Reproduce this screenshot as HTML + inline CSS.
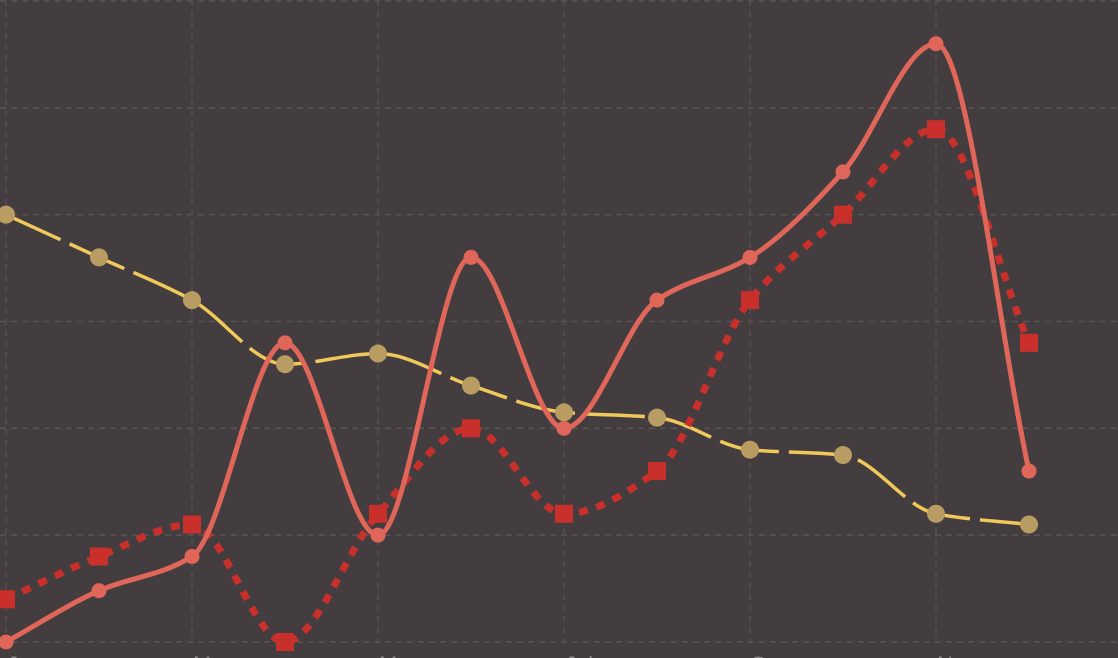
<!DOCTYPE html>
<html><head><meta charset="utf-8"><style>
html,body{margin:0;padding:0;background:#433d3f;}
svg{display:block;font-family:"Liberation Sans",sans-serif;}
</style></head><body>
<svg id="chart" width="1118" height="658" viewBox="0 0 1118 658"></svg>
<script>
const months=["Jan","Feb","Mar","Apr","May","Jun","Jul","Aug","Sep","Oct","Nov","Dec"];
const seriesA=[0,4.8,8,28,10,36,20,32,36,44,56,16];
const seriesB=[4,8,11,0,12,20,12,16,32,40,48,28];
const seriesC=[40,36,32,26,27,24,21.5,21,18,17.5,12,11];
const yTicks=[0,10,20,30,40,50,60];
const NS="http://www.w3.org/2000/svg";
const svg=document.getElementById('chart');
const x=i=>6+93*i;
const y=v=>642-v*(641/60);
function mk(t,a,p){const e=document.createElementNS(NS,t);for(const k in a)e.setAttribute(k,a[k]);(p||svg).appendChild(e);return e;}
const grid=mk('g',{});


yTicks.forEach(v=>{const l=mk('line',{x1:0,x2:1118,y1:y(v),y2:y(v),stroke:'#5b5456','stroke-width':1.5,'stroke-dasharray':'6,5'},grid);

});
for(let i=0;i<months.length;i+=2){const l=mk('line',{x1:x(i),x2:x(i),y1:0,y2:642,stroke:'#564f51','stroke-width':1.5,'stroke-dasharray':'6,5'},grid);


const t=mk('text',{x:x(i)+1,y:672,'text-anchor':'start',fill:'#8d8587','font-size':22},grid);t.textContent=months[i];

}
function monotone(pts){
 const n=pts.length,dx=[],s=[],m=[];
 for(let i=0;i<n-1;i++){dx[i]=pts[i+1][0]-pts[i][0];s[i]=(pts[i+1][1]-pts[i][1])/dx[i];}
 m[0]=s[0];m[n-1]=s[n-2];
 for(let i=1;i<n-1;i++){m[i]=(s[i-1]*s[i]<=0)?0:(3*(dx[i-1]+dx[i]))/((2*dx[i]+dx[i-1])/s[i-1]+(dx[i]+2*dx[i-1])/s[i]);}
 let d=`M${pts[0][0]},${pts[0][1]}`;
 for(let i=0;i<n-1;i++){const h=dx[i]/3;d+=`C${pts[i][0]+h},${pts[i][1]+m[i]*h} ${pts[i+1][0]-h},${pts[i+1][1]-m[i+1]*h} ${pts[i+1][0]},${pts[i+1][1]}`;}
 return d;}
function series(vals,name,color,w,dash,marker,mcolor){
 const g=mk('g',{});
 
 
 const pts=vals.map((v,i)=>[x(i),y(v)]);
 const p=mk('path',{d:monotone(pts),fill:'none',stroke:color,'stroke-width':w,'stroke-dasharray':dash||'none','stroke-linecap':'butt'},g);
 
 
 pts.forEach(q=>{let e;
  if(marker==='sq')e=mk('rect',{x:q[0]-9,y:q[1]-9,width:18,height:18,fill:mcolor},g);
  else e=mk('circle',{cx:q[0],cy:q[1],r:marker,fill:mcolor},g);
  
  });
}
series(seriesC,'series-c','#f0c95a',3.5,'60,10',9,'#b89c62');
series(seriesB,'series-b','#c9302c',7,'9,9','sq','#c9302c');
series(seriesA,'series-a','#e0665a',5,null,7.5,'#e0665a');
</script>
</body></html>
